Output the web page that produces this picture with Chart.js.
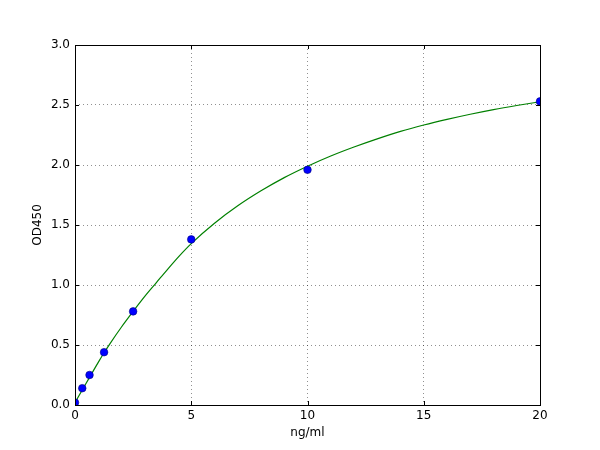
<!DOCTYPE html>
<html>
<head>
<meta charset="utf-8">
<script src="https://cdn.jsdelivr.net/npm/chart.js@4/dist/chart.umd.min.js"></script>
<style>
html,body{margin:0;padding:0;background:#fff;}
#wrap{width:600px;height:450px;position:relative;}
</style>
</head>
<body>
<div id="wrap"><canvas id="c" width="600" height="450"></canvas></div>
<script>
// Standard points (ng/ml vs OD450)
const concentrations = [0, 0.3125, 0.625, 1.25, 2.5, 5, 10, 20];
const odValues = [0.02, 0.14, 0.25, 0.44, 0.78, 1.38, 1.96, 2.53];
// Fitted curve
const curveX = [0, 0.3125, 0.625, 1, 1.25, 1.5, 2, 2.5, 3, 3.5, 4, 4.5, 5, 6, 7, 8, 9, 10, 11, 12, 13, 14, 15, 16, 17, 18, 19, 20];
const curveY = [0.02, 0.125, 0.23, 0.355, 0.435, 0.51, 0.65, 0.78, 0.905, 1.02, 1.135, 1.245, 1.345, 1.515, 1.66, 1.785, 1.895, 1.99, 2.075, 2.15, 2.218, 2.28, 2.333, 2.38, 2.423, 2.462, 2.496, 2.527];
const xTicks = [0, 5, 10, 15, 20];
const yTicks = [0.0, 0.5, 1.0, 1.5, 2.0, 2.5, 3.0];
const xTitle = 'ng/ml';
const yTitle = 'OD450';

const FONT = "'DejaVu Sans', sans-serif";

const boxPlugin = {
  id: 'boxTicks',
  afterDraw(chart) {
    const {ctx, chartArea: a, scales} = chart;
    ctx.save();
    ctx.strokeStyle = '#000';
    ctx.lineWidth = 1;
    ctx.beginPath();
    const tl = 4;
    xTicks.forEach(v => {
      const px = Math.round(scales.x.getPixelForValue(v)) + 0.5;
      ctx.moveTo(px, a.bottom); ctx.lineTo(px, a.bottom - tl);
      ctx.moveTo(px, a.top); ctx.lineTo(px, a.top + tl);
    });
    yTicks.forEach(v => {
      const py = Math.round(scales.y.getPixelForValue(v)) + 0.5;
      ctx.moveTo(a.left, py); ctx.lineTo(a.left + tl, py);
      ctx.moveTo(a.right, py); ctx.lineTo(a.right - tl, py);
    });
    ctx.stroke();
    ctx.strokeRect(Math.round(a.left) + 0.5, Math.round(a.top) + 0.5, Math.round(a.right - a.left), Math.round(a.bottom - a.top));
    ctx.restore();
  }
};

new Chart(document.getElementById('c'), {
  type: 'scatter',
  data: {
    datasets: [
      {
        type: 'line',
        label: 'fit',
        data: curveX.map((x, i) => ({x: x, y: curveY[i]})),
        borderColor: '#008000',
        borderWidth: 1.2,
        pointRadius: 0,
        fill: false,
        cubicInterpolationMode: 'monotone',
        clip: 0,
        order: 2
      },
      {
        label: 'standards',
        data: concentrations.map((x, i) => ({x: x, y: odValues[i]})),
        backgroundColor: '#0000ff',
        borderColor: '#000080',
        borderWidth: 0.6,
        pointRadius: 3.8,
        clip: 0,
        order: 1
      }
    ]
  },
  options: {
    responsive: false,
    animation: false,
    devicePixelRatio: 1,
    layout: {padding: {left: 0, top: 45, right: 60, bottom: 0}},
    plugins: {legend: {display: false}, tooltip: {enabled: false}},
    scales: {
      x: {
        type: 'linear', min: 0, max: 20,
        afterFit(s) { s.height = 45; },
        afterBuildTicks(s) { s.ticks = xTicks.map(v => ({value: v})); },
        ticks: {color: '#000', font: {family: FONT, size: 12}, padding: 4, maxRotation: 0, callback: v => String(v)},
        grid: {color: 'rgba(0,0,0,0.55)', lineWidth: 0.8, drawTicks: false},
        border: {display: false, dash: [1, 3]},
        title: {display: true, text: xTitle, color: '#000', font: {family: FONT, size: 12}, padding: {top: 0, bottom: 10}}
      },
      y: {
        type: 'linear', min: 0, max: 3,
        afterFit(s) { s.width = 75; },
        afterBuildTicks(s) { s.ticks = yTicks.map(v => ({value: v})); },
        ticks: {color: '#000', font: {family: FONT, size: 12}, padding: 5, callback: v => Number(v).toFixed(1)},
        grid: {color: 'rgba(0,0,0,0.55)', lineWidth: 0.8, drawTicks: false},
        border: {display: false, dash: [1, 3]},
        title: {display: true, text: yTitle, color: '#000', font: {family: FONT, size: 12}, padding: {top: 31, bottom: 0}}
      }
    }
  },
  plugins: [boxPlugin]
});
</script>
</body>
</html>
